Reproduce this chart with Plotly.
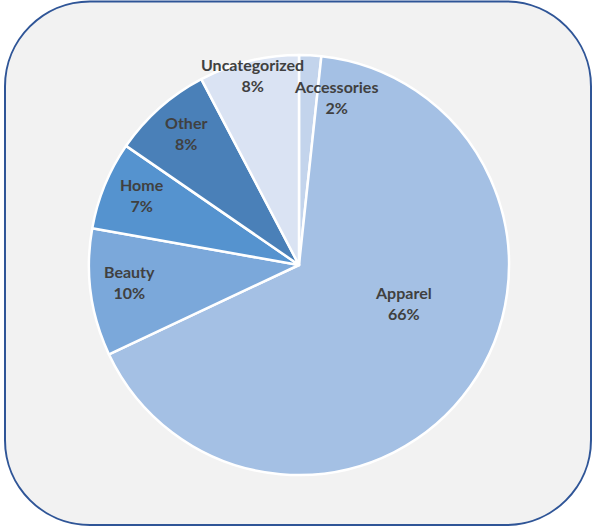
import math
import plotly.graph_objects as go

# Sales share by product category
categories = ["Accessories", "Apparel", "Beauty", "Home", "Other", "Uncategorized"]
shares = [1.7, 66.3, 9.8, 6.8, 7.7, 7.7]
colors = ["#c3d4ec", "#a4c0e4", "#7ba8da", "#5593cf", "#4a80b8", "#dae3f3"]

# label placement: (angle tweak in degrees, radius as fraction of pie radius)
label_place = {
    "Accessories": (9.3, 0.82),
    "Apparel": (-15.5, 0.53),
    "Beauty": (1.9, 0.81),
    "Home": (1.7, 0.82),
    "Other": (1.0, 0.83),
    "Uncategorized": (0.0, 0.93),
}

W, H = 593, 527
cx, cy, R = 299, 265, 210

fig = go.Figure(go.Pie(
    labels=categories,
    values=shares,
    sort=False,
    direction="clockwise",
    rotation=0,
    marker=dict(colors=colors, line=dict(color="white", width=2.5)),
    textinfo="none",
    hoverinfo="label+percent",
    showlegend=False,
    domain=dict(x=[(cx - R) / W, (cx + R) / W], y=[1 - (cy + R) / H, 1 - (cy - R) / H]),
))

# rounded frame behind the chart
x0, y0, x1, y1, rad = 5, 1.5, 591, 525, 85
def px(x):
    return x / W
def py(y):
    return 1 - y / H
k = 0.5523
path = (
    f"M {px(x0 + rad)},{py(y0)} L {px(x1 - rad)},{py(y0)} "
    f"C {px(x1 - rad + k * rad)},{py(y0)} {px(x1)},{py(y0 + rad - k * rad)} {px(x1)},{py(y0 + rad)} "
    f"L {px(x1)},{py(y1 - rad)} "
    f"C {px(x1)},{py(y1 - rad + k * rad)} {px(x1 - rad + k * rad)},{py(y1)} {px(x1 - rad)},{py(y1)} "
    f"L {px(x0 + rad)},{py(y1)} "
    f"C {px(x0 + rad - k * rad)},{py(y1)} {px(x0)},{py(y1 - rad + k * rad)} {px(x0)},{py(y1 - rad)} "
    f"L {px(x0)},{py(y0 + rad)} "
    f"C {px(x0)},{py(y0 + rad - k * rad)} {px(x0 + rad - k * rad)},{py(y0)} {px(x0 + rad)},{py(y0)} Z"
)
fig.add_shape(type="path", path=path, xref="paper", yref="paper",
              fillcolor="#f2f2f2", line=dict(color="#2f5597", width=2), layer="below")

# category labels with rounded percentages, placed around each slice's mid-angle
total = sum(shares)
start = 0.0
for name, v in zip(categories, shares):
    sweep = v / total * 360
    tweak, frac = label_place[name]
    ang = math.radians(start + sweep / 2 + tweak)
    lx = cx + frac * R * math.sin(ang)
    ly = cy - frac * R * math.cos(ang)
    pct = round(v / total * 100)
    fig.add_annotation(
        x=lx / W, y=1 - ly / H, xref="paper", yref="paper",
        text=f"<b>{name}</b><br><b>{pct}%</b>",
        showarrow=False, xanchor="center", yanchor="middle",
        font=dict(family="Lato", size=16, color="#404040"),
    )
    start += sweep

fig.update_layout(
    width=W, height=H,
    margin=dict(l=0, r=0, t=0, b=0),
    paper_bgcolor="white",
    plot_bgcolor="white",
)

fig.write_html("out.html")
